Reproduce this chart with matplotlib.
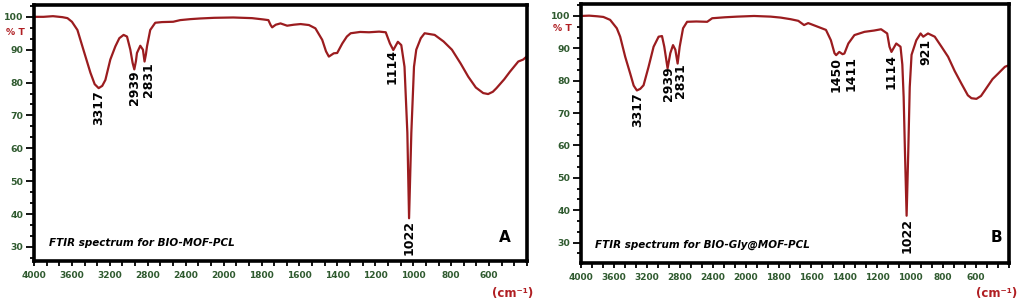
import numpy as np
import matplotlib
matplotlib.use("Agg")
import matplotlib.pyplot as plt

# FTIR spectrum A (BIO-MOF-PCL): wavenumber (cm-1), transmittance (%)
wn_a = [4000, 3900, 3800, 3700, 3647, 3600, 3542, 3479, 3405, 3360, 3318, 3280,
        3247, 3195, 3142, 3100, 3055, 3019, 2984, 2960, 2942, 2925, 2914, 2879,
        2851, 2834, 2820, 2808, 2774, 2721, 2650, 2532, 2458, 2350, 2247, 2100,
        1949, 1850, 1790, 1764, 1752, 1744, 1725, 1700, 1665, 1630, 1594, 1550,
        1516, 1480, 1460, 1445, 1419, 1401, 1374, 1350, 1330, 1280, 1233, 1180,
        1145, 1123, 1105, 1081, 1063, 1046, 1031, 1022, 1010, 996, 984, 960,
        940, 887, 840, 796, 750, 710, 670, 631, 605, 580, 561, 520, 490, 446,
        420, 400]
t_a = [100, 100, 100.2, 99.9, 99.6, 98.5, 96, 90, 83, 79.5, 78.3, 79,
       80.8, 87, 91, 93.5, 94.5, 94, 90, 86, 84, 86.5, 89, 91.2,
       90, 86.4, 88.5, 91, 96, 98.2, 98.4, 98.5, 99, 99.3, 99.5, 99.7,
       99.8, 99.6, 99.2, 99, 97.5, 96.8, 97.6, 98, 97.3, 97.6, 97.8, 97.5,
       96.5, 93, 89.5, 87.9, 88.9, 89, 91.9, 94, 95, 95.4, 95.3, 95.5,
       95.3, 91.9, 89.9, 92.4, 91.4, 84.8, 64.7, 38.7, 64.7, 84.8, 90, 93.5,
       95, 94.5, 92.5, 90, 85.8, 81.8, 78.5, 76.8, 76.5, 77.2, 78.3, 81, 83.3, 86.4,
       87, 88]

# FTIR spectrum B (BIO-Gly@MOF-PCL)
wn_b = [4000, 3900, 3800, 3728, 3646, 3565, 3524, 3463, 3402, 3360, 3321, 3280,
        3240, 3179, 3118, 3057, 3016, 2988, 2948, 2915, 2882, 2854, 2826, 2801,
        2760, 2711, 2600, 2467, 2406, 2250, 2101, 1949, 1848, 1787, 1726, 1680,
        1645, 1620, 1604, 1563, 1512, 1482, 1460, 1450, 1431, 1411, 1400, 1376,
        1339, 1278, 1220, 1177, 1140, 1126, 1114, 1085, 1059, 1048, 1040, 1032,
        1022, 1012, 1003, 992, 963, 937, 921, 892, 851, 810, 770, 730, 689, 650,
        628, 598, 570, 547, 500, 466, 425, 400]
t_b = [100, 100.1, 99.9, 99.7, 98.8, 96.2, 93.6, 87.4, 82.2, 78.5, 77, 77.5,
       78.6, 84.3, 90.5, 93.6, 93.8, 90.5, 83.8, 88.5, 91, 89.6, 85.3, 90.5,
       96.2, 98.2, 98.3, 98.2, 99.3, 99.6, 99.8, 100, 99.8, 99.5, 99, 98.5,
       97.2, 97.8, 97.5, 96.7, 95.7, 92.5, 88.5, 87.9, 88.9, 88.2, 88.4, 91.5,
       94.1, 95.1, 95.5, 95.9, 94.6, 90.5, 88.9, 91.5, 90.5, 85, 75, 58,
       38.3, 58, 78, 88, 92.5, 94.6, 93.6, 94.6, 93.6, 90.5, 87.4, 83, 79.1, 75.5,
       74.6, 74.4, 75.3, 77, 80.5, 82.2, 84.3, 84.8]

peaks_a = [3317, 2939, 2831, 1114, 1022]
peaks_b = [3317, 2939, 2831, 1450, 1411, 1114, 1022, 921]

titles = ["FTIR spectrum for BIO-MOF-PCL", "FTIR spectrum for BIO-Gly@MOF-PCL"]
panel_tags = ["A", "B"]

major_x = [4000, 3600, 3200, 2800, 2400, 2000, 1800, 1600, 1400, 1200, 1000, 800, 600]
minor_x = list(np.arange(4000, 2000, -400 / 3)) + list(np.arange(2000, 399, -200 / 3))

line_col = "#9b1c1f"
tick_col = "#2f5a2f"
red_col = "#b01e22"


# x axis: 400 cm-1 per division above 2000, 200 cm-1 per division below
def fwd(w):
    w = np.asarray(w, dtype=float)
    return np.where(w >= 2000, w, 2 * w - 2000)


def inv(u):
    u = np.asarray(u, dtype=float)
    return np.where(u >= 2000, u, (u + 2000) / 2)


fig = plt.figure(figsize=(10.21, 3.03), dpi=100)
W, H = 1021, 303

ax_a = fig.add_axes([34 / W, 1 - 261 / H, (527 - 34) / W, (261 - 5) / H])
ax_b = fig.add_axes([581 / W, 1 - 263 / H, (1009 - 581) / W, (263 - 4) / H])

panels = [
    (ax_a, wn_a, t_a, peaks_a, titles[0], panel_tags[0], (25.7, 103.6), 95.3,
     (0.030, 0.070), (0.955, 0.09), 513),
    (ax_b, wn_b, t_b, peaks_b, titles[1], panel_tags[1], (23.7, 103.7), 96.0,
     (0.033, 0.069), (0.971, 0.097), 997),
]

# small sideways nudges (points) for labels that would overlap
nudge = {2831: 2.5, 1411: 6, 921: 2}

for ax, wn, t, peaks, title, tag, ylim, pt_y, title_pos, tag_pos, cm_x in panels:
    ax.plot(wn, t, color=line_col, lw=1.6)
    ax.set_xscale("function", functions=(fwd, inv))
    ax.set_xlim(4000, 400)

    for s in ax.spines.values():
        s.set_linewidth(2.6)
        s.set_color("black")

    ax.set_xticks(major_x)
    ax.set_xticks(minor_x, minor=True)
    ax.set_xticklabels([str(v) for v in major_x])
    ax.set_yticks(range(30, 101, 10))
    ax.set_yticks(np.arange(20, 104, 10 / 3), minor=True)
    ax.set_ylim(*ylim)
    ax.tick_params(axis="x", which="both", direction="out", length=3.5, width=1.3,
                   pad=3.5, labelsize=6.5, labelcolor=tick_col)
    ax.tick_params(axis="y", which="major", direction="out", length=6, width=1.3,
                   pad=1.5, labelsize=6.7, labelcolor=tick_col)
    ax.tick_params(axis="y", which="minor", direction="out", length=3, width=1.3)
    for lab in ax.get_xticklabels() + ax.get_yticklabels():
        lab.set_fontweight("bold")

    ax.annotate("% T", xy=(0, pt_y), xycoords=("axes fraction", "data"),
                xytext=(-6.5, 0), textcoords="offset points", ha="right", va="center",
                fontsize=6.7, fontweight="bold", color=red_col)

    wr = wn[::-1]
    tr = t[::-1]
    for p in peaks:
        yv = np.interp(p, wr, tr)
        ax.annotate(str(p), xy=(p, yv), xytext=(nudge.get(p, 0), -1.5),
                    textcoords="offset points", rotation=90, ha="center", va="top",
                    fontsize=9, fontweight="bold", color="black")

    ax.text(title_pos[0], title_pos[1], title, transform=ax.transAxes,
            fontsize=7.5, fontweight="bold", fontstyle="italic", ha="left", va="center")
    ax.text(tag_pos[0], tag_pos[1], tag, transform=ax.transAxes,
            fontsize=11, fontweight="bold", ha="center", va="center")

    fig.text(cm_x / W, 1 - 293 / H, "(cm\u207b\u00b9)", color=red_col, fontsize=8.5,
             fontweight="bold", ha="center", va="center")

fig.savefig("out.png", dpi=100)
